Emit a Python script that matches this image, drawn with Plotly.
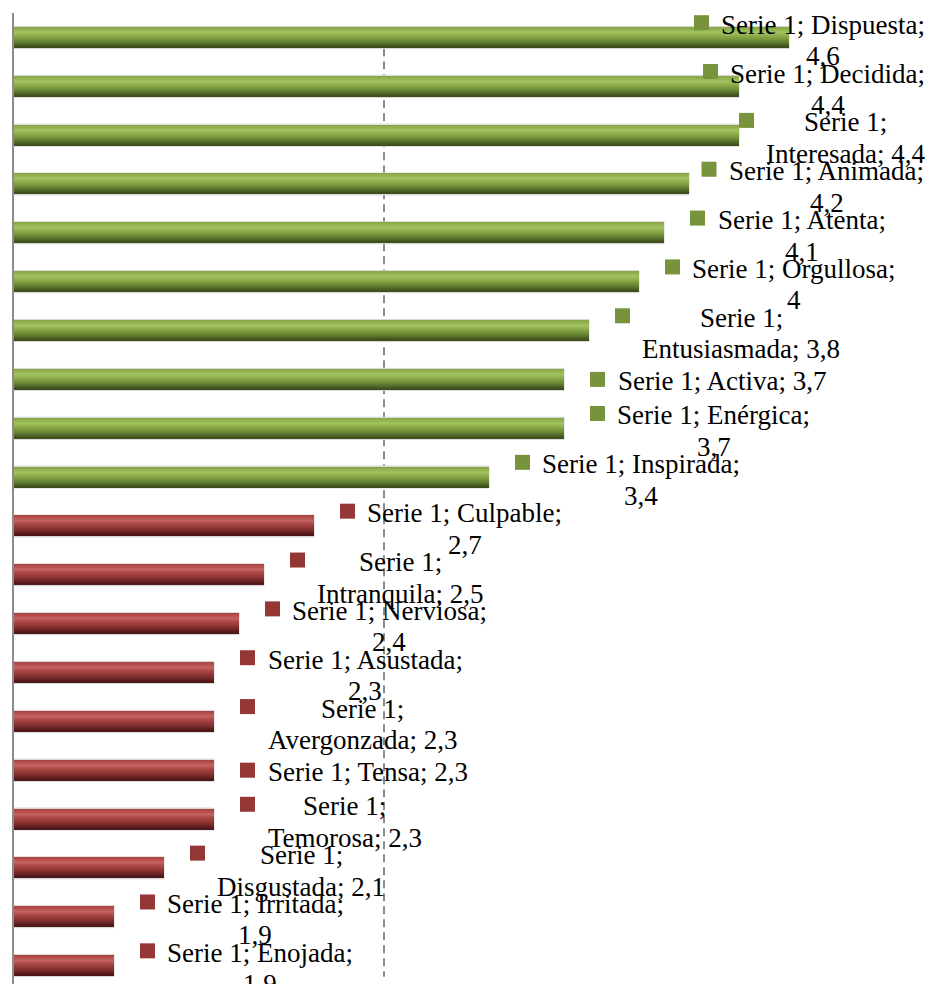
import plotly.graph_objects as go

# ---------------- data ----------------
categories = ["Dispuesta", "Decidida", "Interesada", "Animada", "Atenta", "Orgullosa",
              "Entusiasmada", "Activa", "Enérgica", "Inspirada", "Culpable", "Intranquila",
              "Nerviosa", "Asustada", "Avergonzada", "Tensa", "Temorosa", "Disgustada",
              "Irritada", "Enojada"]
values = [4.6, 4.4, 4.4, 4.2, 4.1, 4.0, 3.8, 3.7, 3.7, 3.4,
          2.7, 2.5, 2.4, 2.3, 2.3, 2.3, 2.3, 2.1, 1.9, 1.9]
groups = ["pos"] * 10 + ["neg"] * 10
series_name = "Serie 1"
# where the data label text wraps: after the name, after "Serie 1;", or no wrap
label_wrap = ["name", "name", "serie", "name", "name", "name", "serie", "none", "name", "name",
              "name", "serie", "name", "name", "serie", "none", "serie", "serie", "name", "name"]
midpoint = 2.98

# ---------------- layout constants ----------------
# the page body has an 8px default margin, so the figure starts at (8, 8)
W, H = 920, 976
ML, MT = 6, 5
XMIN = 1.5
PPU = 250.0          # pixels per x unit
CAT_PX = 48.85       # pixels per category row
plot_w = W - ML
plot_h = H - MT
XMAX = XMIN + plot_w / PPU
n = len(categories)
Y_TOP = -0.5
Y_BOT = Y_TOP + plot_h / CAT_PX
FS = 27
FONT = "Liberation Serif"
PITCH = 31.5
TEXT_DROP = 3.0      # labels sit slightly below the bar centre

marker_col = {"pos": "#77933C", "neg": "#953735"}
stops = [(0.00, "#86A444", "#A84341"),
         (0.10, "#90AF4D", "#B34C4A"),
         (0.27, "#A2C362", "#C46361"),
         (0.45, "#8DAC4A", "#AA4645"),
         (0.70, "#6B8935", "#873131"),
         (0.90, "#4C6125", "#5F1F1F"),
         (1.00, "#3B4B1B", "#491515")]


def hex2rgb(h):
    h = h.lstrip("#")
    return tuple(int(h[i:i + 2], 16) for i in (0, 2, 4))


def grad(t, which):
    idx = 1 if which == "pos" else 2
    for a, b in zip(stops[:-1], stops[1:]):
        if a[0] <= t <= b[0]:
            f = (t - a[0]) / (b[0] - a[0])
            ca, cb = hex2rgb(a[idx]), hex2rgb(b[idx])
            c = [round(ca[k] + (cb[k] - ca[k]) * f) for k in range(3)]
            return "rgb(%d,%d,%d)" % tuple(c)
    return stops[-1][idx]


# Times / Liberation Serif advance widths (1/1000 em) for placing labels
CW = {' ': 250, ';': 278, ',': 250, 'S': 556, 'D': 722, 'I': 333, 'A': 722, 'O': 722,
      'E': 611, 'C': 667, 'N': 722, 'T': 611, 'a': 444, 'b': 500, 'c': 444, 'd': 500,
      'e': 444, 'é': 444, 'g': 500, 'i': 278, 'j': 278, 'l': 278, 'm': 778, 'n': 500,
      'o': 500, 'p': 500, 'q': 500, 'r': 333, 's': 389, 't': 278, 'u': 500, 'v': 500,
      'z': 444}


def text_w(s):
    return sum(CW.get(ch, 500) for ch in s) * FS / 1000.0


def fmt(v):
    return ("%g" % v).replace(".", ",")


ys = list(range(n))
fig = go.Figure()

# bars: light outline + gradient stripes (cylinder look)
bw = 20.0 / CAT_PX
fig.add_trace(go.Bar(x=values, y=ys, base=0, orientation="h", width=bw + 2.0 / CAT_PX,
                     marker=dict(color="#D6D6D6", line=dict(width=1, color="#D6D6D6")),
                     hoverinfo="skip", showlegend=False))
NS = 20
for k in range(NS):
    t = (k + 0.5) / NS
    cols = [grad(t, g) for g in groups]
    fig.add_trace(go.Bar(x=values, y=ys, base=0, orientation="h",
                         width=bw / NS * 1.05, offset=-bw / 2 + k * bw / NS,
                         marker=dict(color=cols, line=dict(width=0)),
                         hoverinfo="skip", showlegend=False))

# data labels (legend key + wrapped, centred text)
right_rel = 925 - 14
mk_x, mk_y, mk_c = [], [], []
for i, (c, v, g, wr) in enumerate(zip(categories, values, groups, label_wrap)):
    l1 = series_name + ";"
    l2 = c + ";"
    l3 = fmt(v)
    if wr == "name":
        lines = [l1 + " " + l2, l3]
    elif wr == "serie":
        lines = [l1, l2 + " " + l3]
    else:
        lines = [l1 + " " + l2 + " " + l3]
    tw = max(text_w(s) for s in lines)
    bar_end = (v - XMIN) * PPU
    text_left = min(bar_end + 53, right_rel - tw)
    cx = text_left + tw / 2.0
    nl = len(lines)
    drop = TEXT_DROP if nl > 1 else TEXT_DROP - 1
    for j, s in enumerate(lines):
        fig.add_annotation(x=XMIN + cx / PPU, y=i, xref="x", yref="y", text=s,
                           showarrow=False, xanchor="center", yanchor="middle",
                           yshift=-(j - (nl - 1) / 2.0) * PITCH - drop,
                           font=dict(family=FONT, size=FS, color="#000000"))
    mk_x.append(XMIN + (text_left - 12 - 7.5) / PPU)
    mk_y.append(i - ((nl - 1) / 2.0 * PITCH + 2 - drop) / CAT_PX)
    mk_c.append(marker_col[g])

fig.add_trace(go.Scatter(x=mk_x, y=mk_y, mode="markers",
                         marker=dict(symbol="square", size=15, color=mk_c, line=dict(width=0)),
                         hoverinfo="skip", showlegend=False, cliponaxis=False))

# midpoint reference line
fig.add_shape(type="line", x0=midpoint, x1=midpoint, y0=0.22, y1=n - 0.77, xref="x", yref="y",
              line=dict(color="#8C8C8C", width=2, dash="8px,5px"), layer="below")

fig.update_layout(
    width=W, height=H, margin=dict(l=ML, r=0, t=MT, b=0, pad=0),
    paper_bgcolor="white", plot_bgcolor="white",
    barmode="overlay", showlegend=False,
    xaxis=dict(range=[XMIN, XMAX], visible=False, fixedrange=True, automargin=False),
    yaxis=dict(range=[Y_BOT, Y_TOP], showticklabels=False, showgrid=False, zeroline=False,
               showline=True, linecolor="#8C8C8C", linewidth=2, ticks="", fixedrange=True,
               automargin=False),
)

fig.write_html("out.html")
